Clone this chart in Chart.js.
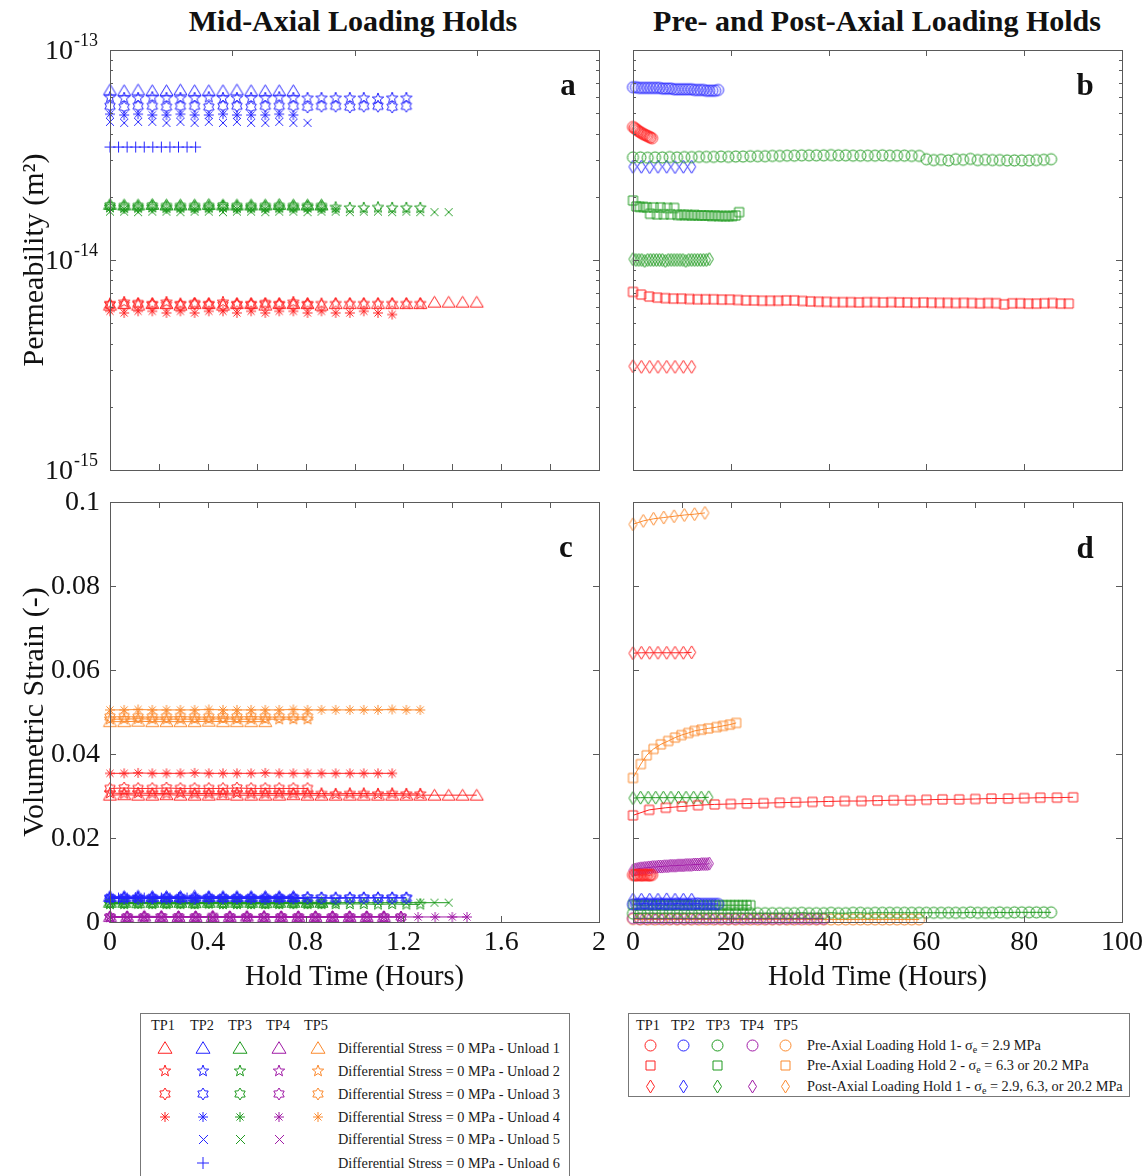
<!DOCTYPE html>
<html>
<head>
<meta charset="utf-8">
<script src="https://cdn.jsdelivr.net/npm/chart.js@4.4.1/dist/chart.umd.min.js"></script>
<style>
  body { margin: 0; background: #fff; width: 1146px; height: 1176px; position: relative; overflow: hidden;
         font-family: "Liberation Serif", "Times New Roman", serif; color: #111; }
  canvas.panel { position: absolute; }
  .title { position: absolute; top: 4px; width: 600px; text-align: center; font-weight: bold; font-size: 30px; }
  .legend { position: absolute; border: 1px solid #777; background: #fff; }
  .lg { position: absolute; font-size: 14.3px; line-height: 16px; white-space: nowrap; color: #1a1a1a; }
  .lg sub { font-size: 10px; vertical-align: baseline; position: relative; top: 3px; }
</style>
</head>
<body>
<div class="title" style="left:53px">Mid-Axial Loading Holds</div>
<div class="title" style="left:577px">Pre- and Post-Axial Loading Holds</div>
<canvas id="panelA" class="panel" width="610" height="460" style="left:0;top:30px"></canvas>
<canvas id="panelB" class="panel" width="526" height="460" style="left:620px;top:30px"></canvas>
<canvas id="panelC" class="panel" width="610" height="510" style="left:0;top:490px"></canvas>
<canvas id="panelD" class="panel" width="526" height="510" style="left:620px;top:490px"></canvas>
<div class="legend" style="left:140px;top:1013px;width:428px;height:180px"></div>
<div class="legend" style="left:628px;top:1013px;width:500px;height:82px"></div>

<script>
// ---- tick values / labels ----
const HOURS_MID_LABELS = [0, 0.4, 0.8, 1.2, 1.6, 2];
const HOURS_MID_LABEL_TEXT = ['0', '0.4', '0.8', '1.2', '1.6', '2'];
const HOURS_MID_MINOR = [0.2, 0.4, 0.6, 0.8, 1, 1.2, 1.4, 1.6, 1.8];
const HOURS_MID_TOP_A = [0.5, 1, 1.5];
const HOURS_PRE_LABELS = [0, 20, 40, 60, 80, 100];
const HOURS_PRE_LABEL_TEXT = ['0', '20', '40', '60', '80', '100'];
const HOURS_PRE_INNER = [20, 40, 60, 80];
const HOURS_PRE_TOP_D = [10, 20, 30, 40, 50, 60, 70, 80, 90];
const STRAIN_LABELS = [0, 0.02, 0.04, 0.06, 0.08, 0.1];
const STRAIN_LABEL_TEXT = ['0', '0.02', '0.04', '0.06', '0.08', '0.1'];
const PERM_DECADES = [1e-15, 1e-14, 1e-13];
const PERM_DECADE_EXP = ['-15', '-14', '-13'];
const PERM_MINOR = [2e-15, 3e-15, 4e-15, 5e-15, 6e-15, 7e-15, 8e-15, 9e-15,
                    2e-14, 3e-14, 4e-14, 5e-14, 6e-14, 7e-14, 8e-14, 9e-14];

const TP_NAMES = ['TP1', 'TP2', 'TP3', 'TP4', 'TP5'];
const TP_COLORS = ['#ff2222', '#2424ff', '#1f9a1f', '#a01aa6', '#fb8a2e'];
const UNLOAD_SHAPES = ['triangle', 'pentagram', 'hexagram', 'asterisk', 'x', 'plus'];
const HOLD_SHAPES = ['circle', 'square', 'diamond'];
const MID_LEGEND_LABELS = [
  'Differential Stress = 0 MPa - Unload 1', 'Differential Stress = 0 MPa - Unload 2',
  'Differential Stress = 0 MPa - Unload 3', 'Differential Stress = 0 MPa - Unload 4',
  'Differential Stress = 0 MPa - Unload 5', 'Differential Stress = 0 MPa - Unload 6'];
const HOLD_LEGEND_LABELS = [
  'Pre-Axial Loading Hold 1- &sigma;<sub>e</sub> = 2.9 MPa',
  'Pre-Axial Loading Hold 2 - &sigma;<sub>e</sub> = 6.3 or 20.2 MPa',
  'Post-Axial Loading Hold 1 - &sigma;<sub>e</sub> = 2.9, 6.3, or 20.2 MPa'];

// ---- mid-axial loading holds: hold time (hours) ----
const T_MID = [0, 0.058, 0.115, 0.173, 0.231, 0.288, 0.346, 0.404, 0.462, 0.519, 0.577, 0.635, 0.692, 0.75,
  0.808, 0.865, 0.923, 0.981, 1.038, 1.096, 1.154, 1.212, 1.269, 1.327, 1.385, 1.442, 1.5];
const T_TP2_U6 = [0, 0.035, 0.07, 0.105, 0.14, 0.175, 0.21, 0.245, 0.28, 0.315, 0.35];
const T_TP4 = [0, 0.07, 0.14, 0.21, 0.28, 0.35, 0.42, 0.49, 0.56, 0.63, 0.7, 0.77, 0.84, 0.91, 0.98,
  1.05, 1.12, 1.19, 1.26, 1.33, 1.4, 1.46];

// permeability, in units of 1e-15 m2
const permTP1U1 = [6.1, 6.2, 6.1, 6.2, 6.2, 6.1, 6.2, 6.2, 6.1, 6.2, 6.2, 6.1, 6.2, 6.2, 6.2, 6.1, 6.2, 6.2, 6.2, 6.2, 6.2, 6.2, 6.2, 6.3, 6.3, 6.3, 6.3];
const permTP1U2 = [6.2, 6.3, 6.2, 6.2, 6.3, 6.2, 6.2, 6.2, 6.3, 6.2, 6.2, 6.2, 6.2, 6.3, 6.2, 6.2, 6.2, 6.2, 6.2, 6.2, 6.2, 6.2, 6.2];
const permTP1U3 = [6.1, 6.1, 6.2, 6.1, 6.1, 6.1, 6.2, 6.1, 6.1, 6.1, 6.1, 6.2, 6.1, 6.1, 6.1];
const permTP1U4 = [5.7, 5.6, 5.7, 5.7, 5.6, 5.7, 5.6, 5.7, 5.7, 5.6, 5.7, 5.6, 5.7, 5.7, 5.6, 5.7, 5.6, 5.6, 5.7, 5.6, 5.5];
const permTP2U1 = [64.5, 64, 64.5, 64, 64, 64.5, 64, 64, 64, 64.5, 64, 64, 64, 64];
const permTP2U2 = [59.5, 59, 59, 59.5, 59, 59, 59, 59.5, 59, 59, 59, 59, 59.5, 59, 59, 59, 59, 59, 59, 58.5, 59, 59];
const permTP2U3 = [54, 53.5, 54, 54, 53.5, 54, 54, 53.5, 54, 54, 53.5, 54, 54, 54, 53.5, 54, 54, 53.5, 54, 54, 53.5, 54];
const permTP2U4 = [49.5, 49, 49.5, 49, 49, 49.5, 49, 49, 49.5, 49, 49, 49, 49.5, 49];
const permTP2U5 = [45.5, 45, 45.5, 45.5, 45, 45.5, 45, 45.5, 45, 45.5, 45, 45, 45.5, 45, 45];
const permTP2U6 = [34.5, 34.5, 34.5, 34.5, 34.5, 34.5, 34.5, 34.5, 34.5, 34.5, 34.5];
const permTP3U1 = [18.4, 18.3, 18.3, 18.4, 18.3, 18.3, 18.3, 18.4, 18.3, 18.3, 18.3, 18.3, 18.4, 18.3, 18.3, 18.3];
const permTP3U2 = [17.9, 17.8, 17.8, 17.9, 17.8, 17.8, 17.8, 17.8, 17.9, 17.8, 17.8, 17.8, 17.8, 17.8, 17.9, 17.8, 17.8, 17.7, 17.7, 17.8, 17.7, 17.7, 17.7];
const permTP3U3 = [18.1, 18, 18, 18.1, 18, 18, 18, 18, 18.1, 18, 18, 18, 18, 18, 18, 18];
const permTP3U4 = [17.6, 17.5, 17.6, 17.6, 17.5, 17.6, 17.5, 17.6, 17.6, 17.5, 17.6, 17.5, 17.6, 17.6, 17.5, 17.5, 17.5];
const permTP3U5 = [17, 17, 16.9, 17, 17, 16.9, 17, 17, 16.9, 17, 17, 16.9, 17, 17, 16.9, 17, 17, 16.9, 17, 17, 16.9, 17, 16.9, 16.9, 16.9];

// volumetric strain (-)
const strainTP1U1 = [0.0302, 0.0303, 0.0302, 0.0302, 0.0303, 0.0302, 0.0302, 0.0302, 0.0303, 0.0302, 0.0302, 0.0302, 0.0302, 0.0303, 0.0302, 0.0302, 0.0302, 0.0302, 0.0302, 0.0302, 0.0302, 0.0302, 0.0302, 0.0302, 0.0302, 0.0302, 0.0302];
const strainTP1U2 = [0.0307, 0.0306, 0.0307, 0.0306, 0.0306, 0.0307, 0.0306, 0.0306, 0.0306, 0.0307, 0.0306, 0.0306, 0.0306, 0.0306, 0.0306, 0.0306, 0.0305, 0.0306, 0.0306, 0.0305, 0.0306, 0.0305, 0.0305];
const strainTP1U3 = [0.0318, 0.0319, 0.0318, 0.0318, 0.0319, 0.0318, 0.0318, 0.0318, 0.0318, 0.0319, 0.0318, 0.0318, 0.0318, 0.0318, 0.0318];
const strainTP1U4 = [0.0354, 0.0354, 0.0355, 0.0354, 0.0354, 0.0354, 0.0355, 0.0354, 0.0354, 0.0354, 0.0354, 0.0355, 0.0354, 0.0354, 0.0354, 0.0354, 0.0354, 0.0354, 0.0354, 0.0354, 0.0354];
const strainTP2U1 = [0.0061, 0.0061, 0.0062, 0.0061, 0.0061, 0.0061, 0.0062, 0.0061, 0.0061, 0.0061, 0.0061, 0.0061, 0.0061, 0.0061];
const strainTP2U2 = [0.0058, 0.0058, 0.0059, 0.0058, 0.0058, 0.0058, 0.0058, 0.0059, 0.0058, 0.0058, 0.0058, 0.0058, 0.0058, 0.0058, 0.0059, 0.0058, 0.0058, 0.0058, 0.0058, 0.0058, 0.0058, 0.0058];
const strainTP2U3 = [0.0057, 0.0057, 0.0056, 0.0057, 0.0057, 0.0057, 0.0056, 0.0057, 0.0057, 0.0057, 0.0057, 0.0056, 0.0057, 0.0057, 0.0057, 0.0057, 0.0056, 0.0057, 0.0057, 0.0057, 0.0057, 0.0057];
const strainTP2U4 = [0.0059, 0.0059, 0.006, 0.0059, 0.0059, 0.0059, 0.0059, 0.006, 0.0059, 0.0059, 0.0059, 0.0059, 0.0059, 0.0059];
const strainTP2U5 = [0.0056, 0.0056, 0.0055, 0.0056, 0.0056, 0.0056, 0.0055, 0.0056, 0.0056, 0.0056, 0.0056, 0.0055, 0.0056, 0.0056, 0.0056];
const strainTP2U6 = [0.0057, 0.0057, 0.0057, 0.0058, 0.0057, 0.0057, 0.0057, 0.0057, 0.0058, 0.0057, 0.0057];
const strainTP3U1 = [0.0047, 0.0047, 0.0046, 0.0047, 0.0047, 0.0047, 0.0046, 0.0047, 0.0047, 0.0047, 0.0047, 0.0046, 0.0047, 0.0047, 0.0047, 0.0047];
const strainTP3U2 = [0.0043, 0.0043, 0.0044, 0.0043, 0.0043, 0.0043, 0.0043, 0.0044, 0.0043, 0.0043, 0.0043, 0.0043, 0.0043, 0.0044, 0.0043, 0.0043, 0.0043, 0.0043, 0.0043, 0.0042, 0.0043, 0.0042, 0.0042];
const strainTP3U3 = [0.0045, 0.0045, 0.0046, 0.0045, 0.0045, 0.0045, 0.0045, 0.0046, 0.0045, 0.0045, 0.0045, 0.0045, 0.0045, 0.0045, 0.0045, 0.0045];
const strainTP3U4 = [0.0044, 0.0044, 0.0044, 0.0045, 0.0044, 0.0044, 0.0044, 0.0044, 0.0045, 0.0044, 0.0044, 0.0044, 0.0044, 0.0044, 0.0044, 0.0044, 0.0044];
const strainTP3U5 = [0.0046, 0.0046, 0.0047, 0.0046, 0.0046, 0.0046, 0.0046, 0.0047, 0.0046, 0.0046, 0.0046, 0.0046, 0.0046, 0.0047, 0.0046, 0.0046, 0.0046, 0.0046, 0.0046, 0.0046, 0.0046, 0.0046, 0.0046, 0.0046, 0.0046];
const strainTP4U1 = [0.0013, 0.0013, 0.0014, 0.0013, 0.0013, 0.0013, 0.0013, 0.0013, 0.0014, 0.0013, 0.0013, 0.0013, 0.0013, 0.0013, 0.0013, 0.0013, 0.0013];
const strainTP4U2 = [0.0012, 0.0012, 0.0012, 0.0013, 0.0012, 0.0012, 0.0012, 0.0012, 0.0012, 0.0013, 0.0012, 0.0012, 0.0012, 0.0012, 0.0012, 0.0012, 0.0012, 0.0012];
const strainTP4U3 = [0.0012, 0.0012, 0.0012, 0.0012, 0.0012, 0.0012, 0.0013, 0.0012, 0.0012, 0.0012, 0.0012, 0.0012, 0.0012, 0.0012, 0.0012, 0.0012, 0.0012, 0.0012];
const strainTP4U4 = [0.0012, 0.0012, 0.0012, 0.0012, 0.0012, 0.0012, 0.0012, 0.0012, 0.0012, 0.0012, 0.0012, 0.0012, 0.0012, 0.0012, 0.0012, 0.0012, 0.0012, 0.0012, 0.0012, 0.0012, 0.0012, 0.0012];
const strainTP4U5 = [0.0011, 0.0011, 0.0011, 0.0011, 0.0012, 0.0011, 0.0011, 0.0011, 0.0011, 0.0011, 0.0011, 0.0011, 0.0011, 0.0011, 0.0011];
const strainTP5U1 = [0.0477, 0.0477, 0.0478, 0.0477, 0.0477, 0.0477, 0.0477, 0.0478, 0.0477, 0.0477, 0.0477, 0.0477];
const strainTP5U2 = [0.0483, 0.0483, 0.0484, 0.0483, 0.0483, 0.0483, 0.0483, 0.0483, 0.0484, 0.0483, 0.0483, 0.0483, 0.0483, 0.0483, 0.0483];
const strainTP5U3 = [0.0488, 0.0489, 0.0488, 0.0488, 0.0488, 0.0489, 0.0488, 0.0488, 0.0488, 0.0488, 0.0489, 0.0488, 0.0488, 0.0488, 0.0488];
const strainTP5U4 = [0.0505, 0.0505, 0.0506, 0.0505, 0.0505, 0.0505, 0.0505, 0.0506, 0.0505, 0.0505, 0.0505, 0.0505, 0.0505, 0.0506, 0.0505, 0.0505, 0.0505, 0.0505, 0.0505, 0.0505, 0.0506, 0.0505, 0.0505];

// ---- pre- and post-axial loading holds: hold time (hours) ----
const T_H1_TP1 = [0, 0.3, 0.6, 0.9, 1.2, 1.5, 1.8, 2.1, 2.4, 2.7, 3, 3.3, 3.6, 3.9];
const T_H1_TP2 = [0, 0.6, 1.2, 1.8, 2.4, 3, 3.6, 4.2, 4.8, 5.4, 6, 6.6, 7.2, 7.8, 8.4, 9, 9.6, 10.2, 10.8, 11.4,
  12, 12.6, 13.2, 13.8, 14.4, 15, 15.6, 16.2, 16.8, 17.4];
const T_H1_TP3 = [0, 1.5, 3, 4.5, 6, 7.5, 9, 10.5, 12, 13.5, 15, 16.5, 18, 19.5, 21, 22.5, 24, 25.5, 27, 28.5,
  30, 31.5, 33, 34.5, 36, 37.5, 39, 40.5, 42, 43.5, 45, 46.5, 48, 49.5, 51, 52.5, 54, 55.5, 57, 58.5,
  60, 61.5, 63, 64.5, 66, 67.5, 69, 70.5, 72, 73.5, 75, 76.5, 78, 79.5, 81, 82.5, 84, 85.5];
const T_H1_TP4 = [0, 1.3, 2.6, 3.9, 5.2, 6.5, 7.8, 9.1, 10.4, 11.7, 13, 14.3, 15.6, 16.9, 18.2, 19.5, 20.8, 22.1,
  23.4, 24.7, 26, 27.3, 28.6, 29.9, 31.2, 32.5, 33.8, 35.1, 36.4, 37.7, 39];
const T_H1_TP5 = [0, 1.5, 3, 4.5, 6, 7.5, 9, 10.5, 12, 13.5, 15, 16.5, 18, 19.5, 21, 22.5, 24, 25.5, 27, 28.5,
  30, 31.5, 33, 34.5, 36, 37.5, 39, 40.5, 42, 43.5, 45, 46.5, 48, 49.5, 51, 52.5, 54, 55.5, 57, 58.5];
const T_H2_TP1_PERM = [0, 1.65, 3.3, 4.95, 6.6, 8.25, 9.9, 11.55, 13.2, 14.85, 16.5, 18.15, 19.8, 21.45, 23.1,
  24.75, 26.4, 28.05, 29.7, 31.35, 33, 34.65, 36.3, 37.95, 39.6, 41.25, 42.9, 44.55, 46.2, 47.85, 49.5,
  51.15, 52.8, 54.45, 56.1, 57.75, 59.4, 61.05, 62.7, 64.35, 66, 67.65, 69.3, 70.95, 72.6, 74.25, 75.9,
  77.55, 79.2, 80.85, 82.5, 84.15, 85.8, 87.45, 89.1];
const T_H2_TP1_STRAIN = [0, 3.3, 6.7, 10, 13.3, 16.7, 20, 23.3, 26.7, 30, 33.3, 36.7, 40, 43.3, 46.7, 50, 53.3,
  56.7, 60, 63.3, 66.7, 70, 73.3, 76.7, 80, 83.3, 86.7, 90];
const T_H2_TP3_PERM = [0, 0.7, 1.4, 2.1, 2.8, 3.5, 4.2, 4.9, 5.6, 6.3, 7, 7.7, 8.4, 9.1, 9.8, 10.5, 11.2, 11.9,
  12.6, 13.3, 14, 14.7, 15.4, 16.1, 16.8, 17.5, 18.2, 18.9, 19.6, 20.3, 21, 21.7];
const T_H2_TP3_STRAIN = [0, 0.8, 1.6, 2.4, 3.2, 4, 4.8, 5.6, 6.4, 7.2, 8, 8.8, 9.6, 10.4, 11.2, 12, 12.8, 13.6,
  14.4, 15.2, 16, 16.8, 17.6, 18.4, 19.2, 20, 20.8, 21.6, 22.4, 23.2, 24];
const T_H2_TP5 = [0, 1.6, 2.8, 4.2, 5.7, 7.2, 8.6, 9.9, 11.3, 12.6, 14, 15.4, 17.1, 18.4, 19.8, 21.1];
const T_POST_TP12 = [0, 1.7, 3.4, 5.1, 6.9, 8.6, 10.3, 12];
const T_POST_TP3_PERM = [0, 0.6, 1.2, 1.8, 2.4, 3, 3.6, 4.2, 4.8, 5.4, 6, 6.6, 7.2, 7.8, 8.4, 9, 9.6, 10.2, 10.8,
  11.4, 12, 12.6, 13.2, 13.8, 14.4, 15, 15.6];
const T_POST_TP3_STRAIN = [0, 1.55, 3.1, 4.65, 6.2, 7.75, 9.3, 10.85, 12.4, 13.95, 15.5];
const T_POST_TP4 = [0, 0.4, 0.8, 1.2, 1.6, 2, 2.4, 2.8, 3.2, 3.6, 4, 4.4, 4.8, 5.2, 5.6, 6, 6.4, 6.8, 7.2, 7.6,
  8, 8.4, 8.8, 9.2, 9.6, 10, 10.4, 10.8, 11.2, 11.6, 12, 12.4, 12.8, 13.2, 13.6, 14, 14.4, 14.8, 15.2, 15.6];
const T_POST_TP5 = [0, 2.1, 4.2, 6.3, 8.4, 10.5, 12.6, 14.7];

// permeability, in units of 1e-15 m2
const permH1TP1 = [43, 42.5, 42, 41.5, 41, 40.6, 40.2, 39.8, 39.5, 39.2, 38.9, 38.6, 38.3, 38];
const permH1TP2 = [66.5, 66.5, 66, 66, 66, 66, 66, 66, 66, 66, 65.5, 65.5, 65.5, 65.5, 65, 65, 65, 65, 65, 65,
  65, 64.5, 64.5, 64.5, 64.5, 64, 64, 64, 64, 64.5];
const permH1TP3 = [30.8, 30.8, 30.7, 30.8, 30.8, 30.9, 30.8, 30.9, 30.9, 31, 31, 31, 31.1, 31, 31.1, 31.1, 31.2,
  31.2, 31.2, 31.3, 31.3, 31.4, 31.4, 31.5, 31.5, 31.5, 31.5, 31.6, 31.5, 31.5, 31.4, 31.4, 31.4, 31.4, 31.5,
  31.4, 31.4, 31.4, 31.3, 31.3, 30.2, 29.9, 30, 29.8, 30.2, 30, 30.3, 29.9, 30, 29.9, 29.9, 29.8, 29.8, 29.8,
  29.8, 29.9, 30, 30.2];
const permH2TP1 = [7.05, 6.85, 6.7, 6.62, 6.58, 6.55, 6.55, 6.52, 6.5, 6.5, 6.5, 6.48, 6.48, 6.45, 6.42, 6.42,
  6.4, 6.4, 6.4, 6.42, 6.42, 6.38, 6.35, 6.33, 6.32, 6.3, 6.3, 6.3, 6.28, 6.3, 6.3, 6.28, 6.3, 6.28, 6.28,
  6.26, 6.28, 6.26, 6.25, 6.25, 6.24, 6.25, 6.24, 6.22, 6.24, 6.23, 6.15, 6.22, 6.22, 6.2, 6.2, 6.22, 6.24,
  6.2, 6.2];
const permH2TP3 = [19.2, 18, 17.9, 17.9, 17.8, 16.6, 17.8, 16.5, 17.8, 16.5, 17.7, 16.5, 17.7, 16.4, 16.4, 16.4,
  16.4, 16.3, 16.4, 16.3, 16.3, 16.3, 16.3, 16.2, 16.3, 16.2, 16.2, 16.2, 16.2, 16.2, 16.3, 16.9];
const permPostTP1 = [3.12, 3.1, 3.1, 3.1, 3.1, 3.1, 3.1, 3.1];
const permPostTP2 = [27.8, 27.8, 27.7, 27.8, 27.8, 27.7, 27.8, 27.8];
const permPostTP3 = [10.1, 10, 10, 10, 9.9, 10, 10, 10, 10, 10, 10, 9.9, 10, 10, 10, 10, 10, 10, 9.9, 10, 10,
  10, 10, 10, 10, 10, 10.1];

// volumetric strain (-)
const strainH1TP1 = [0.0112, 0.0112, 0.0111, 0.0112, 0.0112, 0.0112, 0.0111, 0.0112, 0.0112, 0.0112, 0.0112,
  0.0111, 0.0112, 0.0112];
const strainH1TP2 = [0.0042, 0.0043, 0.0043, 0.0043, 0.0044, 0.0043, 0.0043, 0.0043, 0.0043, 0.0044, 0.0043,
  0.0043, 0.0043, 0.0043, 0.0043, 0.0044, 0.0043, 0.0043, 0.0043, 0.0043, 0.0043, 0.0043, 0.0044, 0.0043,
  0.0043, 0.0043, 0.0043, 0.0043, 0.0043, 0.0043];
const strainH1TP3 = [0.002, 0.0021, 0.0021, 0.0021, 0.0021, 0.0021, 0.0021, 0.0021, 0.0021, 0.0021, 0.0021,
  0.0021, 0.0021, 0.0021, 0.0021, 0.0021, 0.0021, 0.0021, 0.0021, 0.0021, 0.0021, 0.0021, 0.0021, 0.0022,
  0.0021, 0.0021, 0.0021, 0.0022, 0.0021, 0.0021, 0.0022, 0.0022, 0.0021, 0.0022, 0.0022, 0.0022, 0.0022,
  0.0022, 0.0022, 0.0022, 0.0022, 0.0022, 0.0022, 0.0022, 0.0022, 0.0022, 0.0023, 0.0022, 0.0022, 0.0022,
  0.0023, 0.0022, 0.0023, 0.0023, 0.0023, 0.0023, 0.0023, 0.0023];
const strainH1TP4 = [0.0009, 0.0008, 0.0008, 0.0008, 0.0008, 0.0008, 0.0008, 0.0008, 0.0008, 0.0008, 0.0008,
  0.0008, 0.0008, 0.0008, 0.0008, 0.0008, 0.0008, 0.0008, 0.0008, 0.0008, 0.0008, 0.0008, 0.0008, 0.0008,
  0.0008, 0.0008, 0.0008, 0.0008, 0.0008, 0.0008, 0.0008];
const strainH1TP5 = [0.0007, 0.0006, 0.0006, 0.0006, 0.0006, 0.0006, 0.0006, 0.0006, 0.0006, 0.0006, 0.0006,
  0.0006, 0.0006, 0.0006, 0.0006, 0.0006, 0.0006, 0.0006, 0.0006, 0.0006, 0.0006, 0.0006, 0.0006, 0.0006,
  0.0006, 0.0006, 0.0006, 0.0006, 0.0006, 0.0006, 0.0006, 0.0006, 0.0006, 0.0006, 0.0006, 0.0006, 0.0006,
  0.0006, 0.0006, 0.0006];
const strainH2TP1 = [0.0254, 0.0267, 0.0272, 0.0275, 0.0278, 0.028, 0.0281, 0.0282, 0.0283, 0.0284, 0.0285,
  0.0286, 0.0287, 0.0288, 0.0288, 0.0289, 0.029, 0.029, 0.0291, 0.0292, 0.0292, 0.0293, 0.0294, 0.0294,
  0.0295, 0.0296, 0.0296, 0.0297];
const strainH2TP3 = [0.0041, 0.004, 0.004, 0.004, 0.004, 0.004, 0.004, 0.004, 0.004, 0.004, 0.004, 0.004, 0.004,
  0.004, 0.004, 0.004, 0.004, 0.004, 0.004, 0.004, 0.004, 0.004, 0.004, 0.004, 0.004, 0.004, 0.004, 0.004,
  0.004, 0.004, 0.004];
const strainH2TP5 = [0.0343, 0.0376, 0.0397, 0.0412, 0.0423, 0.0431, 0.0439, 0.0445, 0.045, 0.0455, 0.0458,
  0.0461, 0.0464, 0.0467, 0.047, 0.0474];
const strainPostTP1 = [0.064, 0.0641, 0.0641, 0.0641, 0.0641, 0.0641, 0.0641, 0.0642];
const strainPostTP2 = [0.0053, 0.0053, 0.0053, 0.0053, 0.0054, 0.0053, 0.0053, 0.0053];
const strainPostTP3 = [0.0295, 0.0296, 0.0296, 0.0296, 0.0296, 0.0296, 0.0296, 0.0296, 0.0296, 0.0296, 0.0297];
const strainPostTP4 = [0.0123, 0.0125, 0.0126, 0.0127, 0.0128, 0.0128, 0.0129, 0.0129, 0.013, 0.013, 0.0131,
  0.0131, 0.0131, 0.0132, 0.0132, 0.0132, 0.0133, 0.0133, 0.0133, 0.0134, 0.0134, 0.0134, 0.0134, 0.0135,
  0.0135, 0.0135, 0.0135, 0.0136, 0.0136, 0.0136, 0.0136, 0.0137, 0.0137, 0.0137, 0.0137, 0.0138, 0.0138,
  0.0138, 0.0138, 0.0139];
const strainPostTP5 = [0.0947, 0.0955, 0.096, 0.0963, 0.0966, 0.0969, 0.0971, 0.0974];

// series tables (tp index, unload / hold index)
const MID_SERIES = [
  {tp: 0, u: 0, t: T_MID, perm: permTP1U1, strain: strainTP1U1},
  {tp: 0, u: 1, t: T_MID, perm: permTP1U2, strain: strainTP1U2},
  {tp: 0, u: 2, t: T_MID, perm: permTP1U3, strain: strainTP1U3},
  {tp: 0, u: 3, t: T_MID, perm: permTP1U4, strain: strainTP1U4},
  {tp: 1, u: 0, t: T_MID, perm: permTP2U1, strain: strainTP2U1},
  {tp: 1, u: 1, t: T_MID, perm: permTP2U2, strain: strainTP2U2},
  {tp: 1, u: 2, t: T_MID, perm: permTP2U3, strain: strainTP2U3},
  {tp: 1, u: 3, t: T_MID, perm: permTP2U4, strain: strainTP2U4},
  {tp: 1, u: 4, t: T_MID, perm: permTP2U5, strain: strainTP2U5},
  {tp: 1, u: 5, t: T_TP2_U6, perm: permTP2U6, strain: strainTP2U6},
  {tp: 2, u: 0, t: T_MID, perm: permTP3U1, strain: strainTP3U1},
  {tp: 2, u: 1, t: T_MID, perm: permTP3U2, strain: strainTP3U2},
  {tp: 2, u: 2, t: T_MID, perm: permTP3U3, strain: strainTP3U3},
  {tp: 2, u: 3, t: T_MID, perm: permTP3U4, strain: strainTP3U4},
  {tp: 2, u: 4, t: T_MID, perm: permTP3U5, strain: strainTP3U5},
  {tp: 3, u: 0, t: T_TP4, perm: null, strain: strainTP4U1},
  {tp: 3, u: 1, t: T_TP4, perm: null, strain: strainTP4U2},
  {tp: 3, u: 2, t: T_TP4, perm: null, strain: strainTP4U3},
  {tp: 3, u: 3, t: T_TP4, perm: null, strain: strainTP4U4},
  {tp: 3, u: 4, t: T_TP4, perm: null, strain: strainTP4U5},
  {tp: 4, u: 0, t: T_MID, perm: null, strain: strainTP5U1},
  {tp: 4, u: 1, t: T_MID, perm: null, strain: strainTP5U2},
  {tp: 4, u: 2, t: T_MID, perm: null, strain: strainTP5U3},
  {tp: 4, u: 3, t: T_MID, perm: null, strain: strainTP5U4},
];

const HOLD_SERIES = [
  {tp: 0, h: 0, tP: T_H1_TP1, perm: permH1TP1, tS: T_H1_TP1, strain: strainH1TP1},
  {tp: 1, h: 0, tP: T_H1_TP2, perm: permH1TP2, tS: T_H1_TP2, strain: strainH1TP2},
  {tp: 2, h: 0, tP: T_H1_TP3, perm: permH1TP3, tS: T_H1_TP3, strain: strainH1TP3},
  {tp: 3, h: 0, tP: null, perm: null, tS: T_H1_TP4, strain: strainH1TP4},
  {tp: 4, h: 0, tP: null, perm: null, tS: T_H1_TP5, strain: strainH1TP5},
  {tp: 0, h: 1, tP: T_H2_TP1_PERM, perm: permH2TP1, tS: T_H2_TP1_STRAIN, strain: strainH2TP1},
  {tp: 2, h: 1, tP: T_H2_TP3_PERM, perm: permH2TP3, tS: T_H2_TP3_STRAIN, strain: strainH2TP3},
  {tp: 4, h: 1, tP: null, perm: null, tS: T_H2_TP5, strain: strainH2TP5},
  {tp: 0, h: 2, tP: T_POST_TP12, perm: permPostTP1, tS: T_POST_TP12, strain: strainPostTP1},
  {tp: 1, h: 2, tP: T_POST_TP12, perm: permPostTP2, tS: T_POST_TP12, strain: strainPostTP2},
  {tp: 2, h: 2, tP: T_POST_TP3_PERM, perm: permPostTP3, tS: T_POST_TP3_STRAIN, strain: strainPostTP3},
  {tp: 3, h: 2, tP: null, perm: null, tS: T_POST_TP4, strain: strainPostTP4},
  {tp: 4, h: 2, tP: null, perm: null, tS: T_POST_TP5, strain: strainPostTP5},
];

// ---- marker images (hollow, MATLAB-like) ----
const MARKER_SIZE = {triangle: 13, pentagram: 12, hexagram: 12, asterisk: 10, x: 8, plus: 11,
                     circle: 11, square: 9, diamond: 13};

function makeMarker(shape, color, size) {
  const pad = 2;
  const w = Math.ceil(size) + pad * 2;
  const c = document.createElement('canvas');
  c.width = w; c.height = w;
  const g = c.getContext('2d');
  const cx = w / 2, cy = w / 2, r = size / 2;
  g.strokeStyle = color;
  g.lineWidth = 1;
  g.beginPath();
  const star = (n, inner) => {
    for (let k = 0; k < n * 2; k++) {
      const rr = k % 2 ? r * inner : r;
      const a = -Math.PI / 2 + k * Math.PI / n;
      const px = cx + Math.cos(a) * rr, py = cy + Math.sin(a) * rr;
      k ? g.lineTo(px, py) : g.moveTo(px, py);
    }
    g.closePath();
  };
  switch (shape) {
    case 'triangle':
      g.moveTo(cx, cy - r * 0.9); g.lineTo(cx + r, cy + r * 0.75); g.lineTo(cx - r, cy + r * 0.75); g.closePath();
      break;
    case 'pentagram': star(5, 0.42); break;
    case 'hexagram': star(6, 0.6); break;
    case 'asterisk':
      for (let k = 0; k < 4; k++) {
        const a = k * Math.PI / 4;
        g.moveTo(cx - Math.cos(a) * r, cy - Math.sin(a) * r);
        g.lineTo(cx + Math.cos(a) * r, cy + Math.sin(a) * r);
      }
      break;
    case 'x':
      g.moveTo(cx - r, cy - r); g.lineTo(cx + r, cy + r);
      g.moveTo(cx + r, cy - r); g.lineTo(cx - r, cy + r);
      break;
    case 'plus':
      g.moveTo(cx - r, cy); g.lineTo(cx + r, cy);
      g.moveTo(cx, cy - r); g.lineTo(cx, cy + r);
      break;
    case 'circle': g.arc(cx, cy, r, 0, Math.PI * 2); break;
    case 'square': g.rect(cx - r, cy - r, 2 * r, 2 * r); break;
    case 'diamond':
      g.moveTo(cx, cy - r); g.lineTo(cx + r * 0.62, cy); g.lineTo(cx, cy + r); g.lineTo(cx - r * 0.62, cy); g.closePath();
      break;
  }
  g.stroke();
  return c;
}

// ---- frame, inward ticks, tick labels ----
const FRAME_COLOR = '#5a5a5a';
const TICK_LEN = 6;
const MINOR_LEN = 3;

const axisFrame = {
  id: 'axisFrame',
  afterDatasetsDraw(chart, args, o) {
    const {ctx, chartArea: a} = chart;
    const xs = chart.scales.x, ys = chart.scales.y;
    const px = v => Math.round(xs.getPixelForValue(v)) + 0.5;
    const py = v => Math.round(ys.getPixelForValue(v)) + 0.5;
    const seg = (x1, y1, x2, y2) => { ctx.beginPath(); ctx.moveTo(x1, y1); ctx.lineTo(x2, y2); ctx.stroke(); };
    ctx.save();
    ctx.strokeStyle = FRAME_COLOR;
    ctx.lineWidth = 1;
    ctx.strokeRect(Math.round(a.left) + 0.5, Math.round(a.top) + 0.5,
                   Math.round(a.right - a.left), Math.round(a.bottom - a.top));
    (o.bottom || []).forEach(v => seg(px(v), a.bottom, px(v), a.bottom - TICK_LEN));
    (o.top || []).forEach(v => seg(px(v), a.top, px(v), a.top + TICK_LEN));
    (o.yMajor || []).forEach(v => {
      seg(a.left, py(v), a.left + TICK_LEN, py(v));
      seg(a.right, py(v), a.right - TICK_LEN, py(v));
    });
    (o.yMinor || []).forEach(v => {
      seg(a.left, py(v), a.left + MINOR_LEN, py(v));
      seg(a.right, py(v), a.right - MINOR_LEN, py(v));
    });

    ctx.fillStyle = '#111';
    ctx.font = '28px "Liberation Serif"';
    ctx.textBaseline = 'middle';
    if (o.xLabels) {
      ctx.textAlign = 'center';
      o.xLabels.forEach((v, i) => ctx.fillText(o.xText[i], xs.getPixelForValue(v), a.bottom + 21));
    }
    if (o.yLabels) {
      ctx.textAlign = 'right';
      o.yLabels.forEach((v, i) => ctx.fillText(o.yText[i], a.left - 10, ys.getPixelForValue(v) + 1));
    }
    if (o.yLogLabels) {
      o.yLogLabels.forEach((v, i) => {
        const y = ys.getPixelForValue(v);
        ctx.font = '18px "Liberation Serif"';
        ctx.textAlign = 'right';
        const supW = ctx.measureText(o.yLogExp[i]).width;
        ctx.fillText(o.yLogExp[i], a.left - 12, y - 9);
        ctx.font = '28px "Liberation Serif"';
        ctx.fillText('10', a.left - 13 - supW, y + 2);
      });
    }
    ctx.textAlign = 'center';
    if (o.xTitle) {
      ctx.font = '28.5px "Liberation Serif"';
      ctx.fillText(o.xTitle, (a.left + a.right) / 2, a.bottom + 56);
    }
    if (o.yTitle) {
      ctx.font = '30px "Liberation Serif"';
      ctx.save();
      ctx.translate(35, (a.top + a.bottom) / 2);
      ctx.rotate(-Math.PI / 2);
      ctx.fillText(o.yTitle, 0, 0);
      ctx.restore();
    }
    if (o.letter) {
      ctx.font = 'bold 31px "Liberation Serif"';
      ctx.textBaseline = 'alphabetic';
      ctx.fillText(o.letter, a.right - o.letterX, a.top + o.letterY);
    }
    ctx.restore();
  }
};

// ---- dataset builders ----
function midDatasets(key, scale, withLine) {
  return MID_SERIES.filter(s => s[key]).map(s => {
    const color = TP_COLORS[s.tp];
    const shape = UNLOAD_SHAPES[s.u];
    return {
      data: s[key].map((v, i) => ({x: s.t[i], y: v * scale})),
      pointStyle: makeMarker(shape, color, MARKER_SIZE[shape]),
      pointRadius: MARKER_SIZE[shape] / 2,
      showLine: withLine, borderColor: color, borderWidth: 1, backgroundColor: 'transparent', clip: false,
    };
  });
}

function holdDatasets(tKey, key, scale, withLine) {
  return HOLD_SERIES.filter(s => s[key]).map(s => {
    const color = TP_COLORS[s.tp];
    const shape = HOLD_SHAPES[s.h];
    return {
      data: s[key].map((v, i) => ({x: s[tKey][i], y: v * scale})),
      pointStyle: makeMarker(shape, color, MARKER_SIZE[shape]),
      pointRadius: MARKER_SIZE[shape] / 2,
      showLine: withLine, borderColor: color, borderWidth: 1, backgroundColor: 'transparent', clip: false,
    };
  });
}

function makePanel(id, datasets, xMax, logY, padding, frame) {
  return new Chart(document.getElementById(id), {
    type: 'scatter',
    data: {datasets},
    options: {
      responsive: false,
      animation: false,
      events: [],
      layout: {padding},
      scales: {
        x: {type: 'linear', min: 0, max: xMax, display: false},
        y: logY ? {type: 'logarithmic', min: 1e-15, max: 1e-13, display: false}
                : {type: 'linear', min: 0, max: 0.1, display: false},
      },
      plugins: {legend: {display: false}, tooltip: {enabled: false}, axisFrame: frame},
    },
    plugins: [axisFrame],
  });
}

const PAD_LEFT = {left: 110, right: 11};
const PAD_RIGHT = {left: 13, right: 24};

makePanel('panelA', midDatasets('perm', 1e-15, false), 2, true,
  {...PAD_LEFT, top: 20, bottom: 20},
  {bottom: HOURS_MID_MINOR, top: HOURS_MID_TOP_A, yMajor: [1e-14], yMinor: PERM_MINOR,
   yLogLabels: PERM_DECADES, yLogExp: PERM_DECADE_EXP, yTitle: 'Permeability (m\u00b2)',
   letter: 'a', letterX: 31, letterY: 45});

makePanel('panelB', holdDatasets('tP', 'perm', 1e-15, false), 100, true,
  {...PAD_RIGHT, top: 20, bottom: 20},
  {bottom: HOURS_PRE_INNER, top: HOURS_PRE_INNER, yMajor: [1e-14], yMinor: PERM_MINOR,
   letter: 'b', letterX: 37, letterY: 45});

makePanel('panelC', midDatasets('strain', 1, true), 2, false,
  {...PAD_LEFT, top: 12, bottom: 78},
  {bottom: [0.4, 0.8, 1.2, 1.6], top: HOURS_MID_MINOR, yMajor: STRAIN_LABELS.slice(1, -1),
   xLabels: HOURS_MID_LABELS, xText: HOURS_MID_LABEL_TEXT, yLabels: STRAIN_LABELS, yText: STRAIN_LABEL_TEXT,
   xTitle: 'Hold Time (Hours)', yTitle: 'Volumetric Strain (-)', letter: 'c', letterX: 33, letterY: 55});

makePanel('panelD', holdDatasets('tS', 'strain', 1, true), 100, false,
  {...PAD_RIGHT, top: 12, bottom: 78},
  {bottom: HOURS_PRE_INNER, top: HOURS_PRE_TOP_D, yMajor: STRAIN_LABELS.slice(1, -1),
   xLabels: HOURS_PRE_LABELS, xText: HOURS_PRE_LABEL_TEXT,
   xTitle: 'Hold Time (Hours)', letter: 'd', letterX: 37, letterY: 56});

// ---- legends ----
const LEGEND_LEFT = {headX: [163, 202, 240, 278, 316], markX: [165, 203, 240, 279, 318], headY: 1025,
                     rowY: [1048, 1071, 1094, 1117, 1139, 1163], textX: 338};
const LEGEND_RIGHT = {headX: [648, 683, 718, 752, 786], markX: [650, 683, 717, 752, 785], headY: 1025,
                      rowY: [1045, 1065, 1086], textX: 807};
const LEGEND_MARK_SIZE = {triangle: 14, pentagram: 12, hexagram: 12, asterisk: 10, x: 9, plus: 12,
                          circle: 11, square: 9, diamond: 13};

function addText(html, x, y, center) {
  const d = document.createElement('div');
  d.className = 'lg';
  d.innerHTML = html;
  document.body.appendChild(d);
  const w = d.offsetWidth;
  d.style.left = (center ? x - w / 2 : x) + 'px';
  d.style.top = (y - 8) + 'px';
}

function addMark(shape, color, x, y) {
  const c = makeMarker(shape, color, LEGEND_MARK_SIZE[shape]);
  c.style.position = 'absolute';
  c.style.left = (x - c.width / 2) + 'px';
  c.style.top = (y - c.height / 2) + 'px';
  document.body.appendChild(c);
}

function buildLegend(L, series, rowKey, shapes, labels) {
  TP_NAMES.forEach((n, i) => addText(n, L.headX[i], L.headY, true));
  labels.forEach((lab, r) => addText(lab, L.textX, L.rowY[r], false));
  series.forEach(s => addMark(shapes[s[rowKey]], TP_COLORS[s.tp], L.markX[s.tp], L.rowY[s[rowKey]]));
}

buildLegend(LEGEND_LEFT, MID_SERIES, 'u', UNLOAD_SHAPES, MID_LEGEND_LABELS);
buildLegend(LEGEND_RIGHT, HOLD_SERIES, 'h', HOLD_SHAPES, HOLD_LEGEND_LABELS);
</script>
</body>
</html>
